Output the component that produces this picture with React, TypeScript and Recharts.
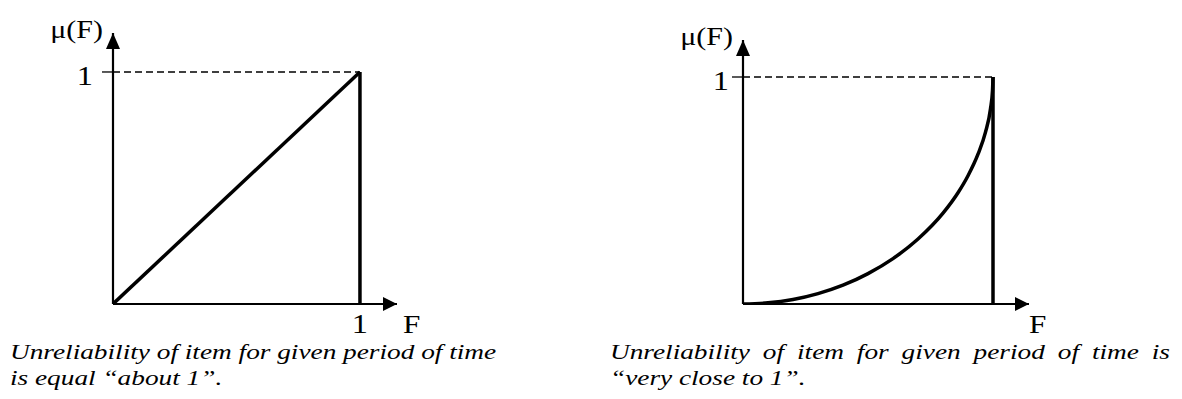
import { LineChart, Line, XAxis, YAxis, ReferenceLine, ReferenceDot } from 'recharts'

// left panel — "about 1": straight line from origin
const aboutF = [0, 1]
const aboutMu = [0, 1]

// right panel — "very close to 1": convex curve
const closeF = [0, 0.1, 0.2, 0.3, 0.4, 0.5, 0.6, 0.7, 0.8, 0.86, 0.9, 0.94, 0.97, 0.99, 0.998, 1]
const closeMu = [0, 0.005, 0.02, 0.046, 0.083, 0.134, 0.2, 0.286, 0.4, 0.49, 0.565, 0.66, 0.757, 0.86, 0.94, 1]

const yName = 'μ(F)'
const xName = 'F'
const unitTick = [1]

const captionAbout = ['Unreliability of item for given period of time', 'is equal “about 1”.']
const captionClose = ['Unreliability of item for given period of time is', '“very close to 1”.']

const SERIF = 'Liberation Serif, Tinos, Times New Roman, Times, serif'
const STRETCH = 1.2

function Stretched({ x, y, size, anchor = 'start', children }: any) {
  return (
    <text
      transform={`translate(${x} ${y}) scale(${STRETCH} 1)`}
      fontFamily={SERIF}
      fontSize={size}
      textAnchor={anchor}
      fill="#000"
    >
      {children}
    </text>
  )
}

interface PanelProps {
  f: number[]
  mu: number[]
  xMax: number
  yMax: number
  left: number
  width: number
  marginLeft: number
  marginRight: number
  marginTop: number
  showXTick: boolean
  yTickDx: number
  fDx: number
  curved: boolean
}

function Panel({
  f,
  mu,
  xMax,
  yMax,
  left,
  width,
  marginLeft,
  marginRight,
  marginTop,
  showXTick,
  yTickDx,
  fDx,
  curved,
}: PanelProps) {
  const data = f.map((v, i) => ({ f: v, mu: mu[i] }))
  return (
    <div style={{ position: 'absolute', left, top: 0 }}>
      <LineChart
        width={width}
        height={345}
        data={data}
        margin={{ top: marginTop, left: marginLeft - 1, right: marginRight, bottom: 40 }}
        style={{ overflow: 'visible' }}
      >
        <XAxis
          dataKey="f"
          type="number"
          domain={[0, xMax]}
          allowDataOverflow
          ticks={unitTick}
          height={1}
          tickSize={0}
          tickMargin={0}
          tickLine={false}
          axisLine={{ stroke: '#000', strokeWidth: 2.2 }}
          tick={
            showXTick
              ? (p: any) => (
                  <Stretched x={p.x} y={304 + 29} size={27} anchor="middle">
                    {p.payload.value}
                  </Stretched>
                )
              : false
          }
        />
        <YAxis
          type="number"
          domain={[0, yMax]}
          allowDataOverflow
          ticks={unitTick}
          width={1}
          tickSize={11}
          tickMargin={0}
          tickLine={{ stroke: '#000', strokeWidth: 1.3 }}
          axisLine={{ stroke: '#000', strokeWidth: 2.2 }}
          tick={(p: any) => (
            <Stretched x={p.x + yTickDx} y={p.y + 13} size={27} anchor="end">
              {p.payload.value}
            </Stretched>
          )}
        />
        <ReferenceLine
          segment={[
            { x: 0, y: 1 },
            { x: 1, y: 1 },
          ]}
          stroke="#000"
          strokeWidth={1.3}
          strokeDasharray="7 4"
        />
        <ReferenceLine
          segment={[
            { x: 1, y: 0 },
            { x: 1, y: 1 },
          ]}
          stroke="#000"
          strokeWidth={3.5}
        />
        <Line
          dataKey="mu"
          type={curved ? 'monotone' : 'linear'}
          stroke="#000"
          strokeWidth={3.5}
          dot={false}
          activeDot={false}
          isAnimationActive={false}
        />
        {/* y-axis arrow + name */}
        <ReferenceDot
          x={0}
          y={yMax}
          r={0}
          shape={(p: any) => (
            <g>
              <polygon
                points={`${p.cx},${p.cy} ${p.cx - 7},${p.cy + 16} ${p.cx + 7},${p.cy + 16}`}
                fill="#000"
              />
              <Stretched x={p.cx - 10} y={p.cy + 5} size={25} anchor="end">
                {yName}
              </Stretched>
            </g>
          )}
        />
        {/* x-axis arrow + name */}
        <ReferenceDot
          x={xMax}
          y={0}
          r={0}
          shape={(p: any) => (
            <g>
              <polygon
                points={`${p.cx},${p.cy} ${p.cx - 14},${p.cy - 7} ${p.cx - 14},${p.cy + 7}`}
                fill="#000"
              />
              <Stretched x={p.cx + fDx} y={p.cy + 29} size={26}>
                {xName}
              </Stretched>
            </g>
          )}
        />
      </LineChart>
    </div>
  )
}

// each caption line is its own tight box, baseline ~14px below its top
function Caption({ lines, left, width, justifyFirst }: any) {
  const tops = [345, 371]
  return (
    <>
      {lines.map((l: string, i: number) => (
        <div
          key={i}
          style={{
            position: 'absolute',
            left,
            top: tops[i],
            width: width / 1.24,
            transform: 'scaleX(1.24)',
            transformOrigin: 'left top',
            fontFamily: SERIF,
            fontStyle: 'italic',
            fontSize: 22,
            lineHeight: '14px',
            color: '#000',
            whiteSpace: 'nowrap',
            ...(i === 0 && justifyFirst ? { textAlign: 'justify' as const, textAlignLast: 'justify' as const } : {}),
          }}
        >
          {l}
        </div>
      ))}
    </>
  )
}

export default function App() {
  return (
    <div
      style={{
        position: 'absolute',
        left: 0,
        top: 0,
        width: 1182,
        height: 399,
        background: '#fff',
        overflow: 'hidden',
      }}
    >
      <Panel
        f={aboutF}
        mu={aboutMu}
        xMax={1.15}
        yMax={1.168}
        left={0}
        width={450}
        marginLeft={113}
        marginRight={53}
        marginTop={33}
        showXTick
        yTickDx={-9}
        fDx={6}
        curved={false}
      />
      <Panel
        f={closeF}
        mu={closeMu}
        xMax={1.144}
        yMax={1.163}
        left={600}
        width={480}
        marginLeft={143}
        marginRight={51}
        marginTop={40}
        showXTick={false}
        yTickDx={-3}
        fDx={0}
        curved
      />
      <Caption lines={captionAbout} left={10} width={492} justifyFirst={false} />
      <Caption lines={captionClose} left={610} width={560} justifyFirst />
    </div>
  )
}
